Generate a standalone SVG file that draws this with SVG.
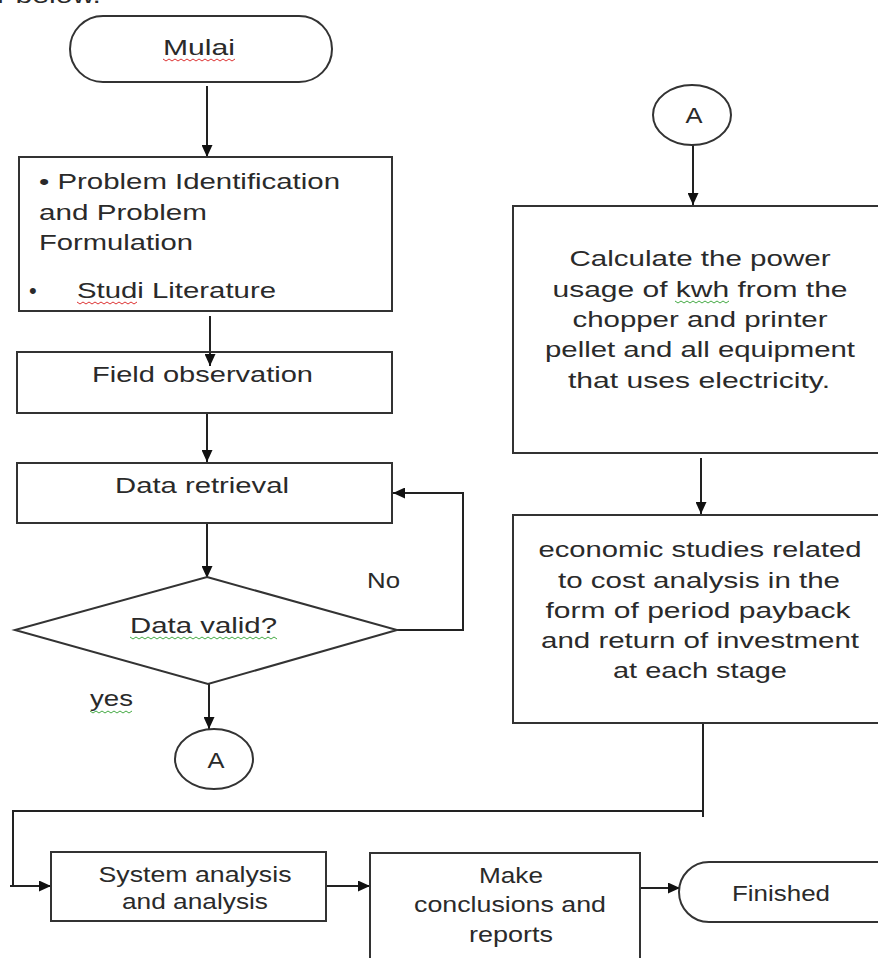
<svg xmlns="http://www.w3.org/2000/svg" width="878" height="958" viewBox="0 0 878 958">
<defs>
<style>
.shape{fill:#fff;stroke:#333;stroke-width:2}
.conn{fill:none;stroke:#222;stroke-width:2}
.t{font-family:"Liberation Sans",Arial,sans-serif;font-size:22px;fill:#2a2a2a}
.m{text-anchor:middle}
.wr{fill:none;stroke:#d33;stroke-width:1}
.wg{fill:none;stroke:#4a4;stroke-width:1}
</style>
<marker id="ah" markerUnits="userSpaceOnUse" markerWidth="12" markerHeight="11" refX="12" refY="5.5" orient="auto">
<path d="M0,0 L12,5.5 L0,11 z" fill="#111"/>
</marker>
</defs>
<rect width="878" height="958" fill="#fff"/>
<text class="t" x="-3" y="3" font-size="24" textLength="104" lengthAdjust="spacingAndGlyphs">r below.</text>

<g id="connectors">
<line class="conn" x1="207" y1="86" x2="207" y2="157" marker-end="url(#ah)"/>
<line class="conn" x1="210" y1="316" x2="210" y2="366" marker-end="url(#ah)"/>
<line class="conn" x1="207" y1="414" x2="207" y2="462" marker-end="url(#ah)"/>
<line class="conn" x1="207" y1="524" x2="207" y2="578" marker-end="url(#ah)"/>
<line class="conn" x1="209" y1="684" x2="209" y2="729" marker-end="url(#ah)"/>
<polyline class="conn" points="397,630 463,630 463,493 393,493" marker-end="url(#ah)"/>
<line class="conn" x1="693" y1="145" x2="693" y2="205" marker-end="url(#ah)"/>
<line class="conn" x1="701" y1="458" x2="701" y2="514" marker-end="url(#ah)"/>
<path class="conn" d="M703,723 V817 M703,811 H13 V886 M10,886 H51" marker-end="url(#ah)"/>
<line class="conn" x1="326" y1="886" x2="370" y2="886" marker-end="url(#ah)"/>
<line class="conn" x1="640" y1="888" x2="680" y2="888" marker-end="url(#ah)"/>
</g>

<g id="start">
<rect class="shape" x="70" y="16" width="262" height="66" rx="33" ry="33"/>
<text class="t m" x="199" y="55" font-size="24" textLength="72" lengthAdjust="spacingAndGlyphs">Mulai</text>
<path class="wr" d="M163,59 l3,2 l3,-2 l3,2 l3,-2 l3,2 l3,-2 l3,2 l3,-2 l3,2 l3,-2 l3,2 l3,-2 l3,2 l3,-2 l3,2 l3,-2 l3,2 l3,-2 l3,2 l3,-2 l3,2 l3,-2 l3,2 l3,-2"/>
</g>

<g id="problem">
<rect class="shape" x="19" y="157" width="373" height="154"/>
<text class="t" x="39" y="189" textLength="301" lengthAdjust="spacingAndGlyphs">• Problem Identification</text>
<text class="t" x="39" y="220" textLength="168" lengthAdjust="spacingAndGlyphs">and Problem</text>
<text class="t" x="39" y="250" textLength="154" lengthAdjust="spacingAndGlyphs">Formulation</text>
<text class="t" x="29" y="298">•</text>
<text class="t" x="77" y="298" textLength="199" lengthAdjust="spacingAndGlyphs">Studi Literature</text>
<path class="wr" d="M77,302 l3,2 l3,-2 l3,2 l3,-2 l3,2 l3,-2 l3,2 l3,-2 l3,2 l3,-2 l3,2 l3,-2 l3,2 l3,-2 l3,2 l3,-2 l3,2 l3,-2 l3,2 l3,-2"/>
</g>

<g id="field">
<rect class="shape" x="17" y="352" width="375" height="61"/>
<text class="t" x="92" y="382" textLength="221" lengthAdjust="spacingAndGlyphs">Field observation</text>
</g>
<line class="conn" x1="210" y1="352" x2="210" y2="366" marker-end="url(#ah)"/>

<g id="retrieval">
<rect class="shape" x="17" y="463" width="375" height="60"/>
<text class="t" x="115" y="493" textLength="174" lengthAdjust="spacingAndGlyphs">Data retrieval</text>
</g>

<g id="decision">
<polygon class="shape" points="207,577 397,630 208,684 15,630"/>
<text class="t" x="130" y="633" textLength="147" lengthAdjust="spacingAndGlyphs">Data valid?</text>
<path class="wg" d="M130,637 l3,2 l3,-2 l3,2 l3,-2 l3,2 l3,-2 l3,2 l3,-2 l3,2 l3,-2 l3,2 l3,-2 l3,2 l3,-2 l3,2 l3,-2 l3,2 l3,-2 l3,2 l3,-2 l3,2 l3,-2 l3,2 l3,-2 l3,2 l3,-2 l3,2 l3,-2 l3,2 l3,-2 l3,2 l3,-2 l3,2 l3,-2 l3,2 l3,-2 l3,2 l3,-2 l3,2 l3,-2 l3,2 l3,-2 l3,2 l3,-2 l3,2 l3,-2 l3,2 l3,-2 l3,2"/>
<text class="t" x="367" y="588" textLength="33" lengthAdjust="spacingAndGlyphs">No</text>
<text class="t" x="90" y="706" textLength="43" lengthAdjust="spacingAndGlyphs">yes</text>
<path class="wg" d="M90,711 l3,2 l3,-2 l3,2 l3,-2 l3,2 l3,-2 l3,2 l3,-2 l3,2 l3,-2 l3,2 l3,-2 l3,2 l3,-2"/>
</g>

<g id="connA1">
<ellipse class="shape" cx="214" cy="759" rx="39" ry="30"/>
<text class="t m" x="216" y="768" font-size="20" textLength="17" lengthAdjust="spacingAndGlyphs">A</text>
</g>

<g id="connA2">
<ellipse class="shape" cx="692" cy="115" rx="39" ry="30"/>
<text class="t m" x="694" y="123" font-size="20" textLength="17" lengthAdjust="spacingAndGlyphs">A</text>
</g>

<g id="calculate">
<rect class="shape" x="513" y="206" width="380" height="247"/>
<text class="t m" x="700" y="266" textLength="261" lengthAdjust="spacingAndGlyphs">Calculate the power</text>
<text class="t m" x="700" y="297" textLength="295" lengthAdjust="spacingAndGlyphs">usage of kwh from the</text>
<path class="wg" d="M675,301 l3,2 l3,-2 l3,2 l3,-2 l3,2 l3,-2 l3,2 l3,-2 l3,2 l3,-2 l3,2 l3,-2 l3,2 l3,-2 l3,2 l3,-2 l3,2 l3,-2"/>
<text class="t m" x="700" y="327" textLength="255" lengthAdjust="spacingAndGlyphs">chopper and printer</text>
<text class="t m" x="700" y="357" textLength="310" lengthAdjust="spacingAndGlyphs">pellet and all equipment</text>
<text class="t m" x="699" y="388" textLength="262" lengthAdjust="spacingAndGlyphs">that uses electricity.</text>
</g>

<g id="economic">
<rect class="shape" x="513" y="515" width="380" height="208"/>
<text class="t m" x="700" y="557" textLength="323" lengthAdjust="spacingAndGlyphs">economic studies related</text>
<text class="t m" x="699" y="588" textLength="282" lengthAdjust="spacingAndGlyphs">to cost analysis in the</text>
<text class="t m" x="698" y="618" textLength="305" lengthAdjust="spacingAndGlyphs">form of period payback</text>
<text class="t m" x="700" y="648" textLength="318" lengthAdjust="spacingAndGlyphs">and return of investment</text>
<text class="t m" x="700" y="678" textLength="174" lengthAdjust="spacingAndGlyphs">at each stage</text>
</g>

<g id="system">
<rect class="shape" x="51" y="852" width="275" height="69"/>
<text class="t m" x="195" y="882" font-size="21" textLength="193" lengthAdjust="spacingAndGlyphs">System analysis</text>
<text class="t m" x="195" y="909" font-size="21" textLength="146" lengthAdjust="spacingAndGlyphs">and analysis</text>
</g>

<g id="conclusions">
<rect class="shape" x="370" y="853" width="270" height="120"/>
<text class="t m" x="511" y="883" font-size="21" textLength="64" lengthAdjust="spacingAndGlyphs">Make</text>
<text class="t m" x="510" y="912" font-size="21" textLength="192" lengthAdjust="spacingAndGlyphs">conclusions and</text>
<text class="t m" x="511" y="942" font-size="21" textLength="84" lengthAdjust="spacingAndGlyphs">reports</text>
</g>

<g id="finished">
<rect class="shape" x="679" y="862" width="240" height="60" rx="30" ry="30"/>
<text class="t m" x="781" y="901" font-size="21" textLength="98" lengthAdjust="spacingAndGlyphs">Finished</text>
</g>
</svg>
